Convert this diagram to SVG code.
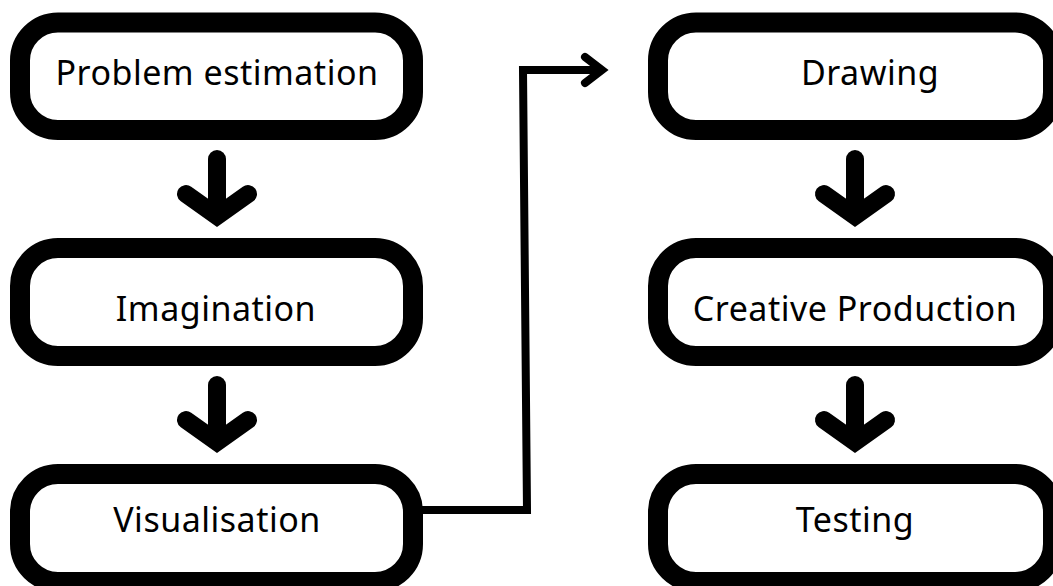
<svg xmlns="http://www.w3.org/2000/svg" width="1053" height="586" viewBox="0 0 1053 586">
  <style>
    .box { fill: #ffffff; stroke: #000000; stroke-width: 20; }
    .lbl { font-family: "Noto Sans", "Open Sans", sans-serif; font-size: 34px; fill: #000000; text-anchor: middle; letter-spacing: 0.5px; }
    .down { fill: none; stroke: #000000; stroke-width: 18; stroke-linecap: round; stroke-linejoin: miter; }
    .link { fill: none; stroke: #000000; stroke-width: 8; stroke-linejoin: miter; }
    .chev { fill: none; stroke: #000000; stroke-width: 8; stroke-linecap: round; stroke-linejoin: miter; }
  </style>
  <rect width="1053" height="586" fill="#ffffff"/>

  <g id="connectors">
    <g id="arrow-problem-imagination">
      <path class="down" d="M217,159 L217,214"/>
      <path class="down" d="M186,194 L217,216 L248,194"/>
    </g>
    <g id="arrow-imagination-visualisation">
      <path class="down" d="M217,385 L217,440"/>
      <path class="down" d="M186,420 L217,442 L248,420"/>
    </g>
    <g id="arrow-visualisation-drawing">
      <path class="link" d="M420,510 L527,510 L523,70 L600,70"/>
      <path class="chev" d="M585,57 L602,70 L585,83"/>
    </g>
    <g id="arrow-drawing-creative">
      <path class="down" d="M855,159 L855,214"/>
      <path class="down" d="M824,194 L855,216 L886,194"/>
    </g>
    <g id="arrow-creative-testing">
      <path class="down" d="M855,385 L855,440"/>
      <path class="down" d="M824,420 L855,442 L886,420"/>
    </g>
  </g>

  <g id="node-problem-estimation">
    <rect class="box" x="20" y="22.5" width="393" height="107.5" rx="38"/>
    <text class="lbl" x="217" y="85">Problem estimation</text>
  </g>
  <g id="node-imagination">
    <rect class="box" x="20" y="248" width="393" height="108" rx="38"/>
    <text class="lbl" x="216" y="321">Imagination</text>
  </g>
  <g id="node-visualisation">
    <rect class="box" x="20" y="474" width="393" height="108" rx="38"/>
    <text class="lbl" x="217" y="532">Visualisation</text>
  </g>
  <g id="node-drawing">
    <rect class="box" x="658" y="22.5" width="395" height="107.5" rx="38"/>
    <text class="lbl" x="870" y="85">Drawing</text>
  </g>
  <g id="node-creative-production">
    <rect class="box" x="658" y="248" width="395" height="108" rx="38"/>
    <text class="lbl" x="855" y="321">Creative Production</text>
  </g>
  <g id="node-testing">
    <rect class="box" x="658" y="474" width="395" height="108" rx="38"/>
    <text class="lbl" x="855" y="532">Testing</text>
  </g>
</svg>
